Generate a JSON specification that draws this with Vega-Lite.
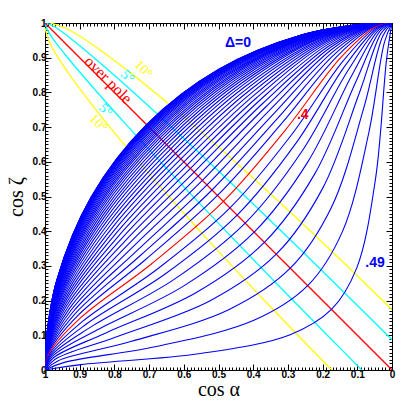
{
  "$schema": "https://vega.github.io/schema/vega-lite/v6.json",
  "width": 347,
  "height": 347,
  "autosize": {"type": "none"},
  "padding": {"left": 45, "top": 23, "right": 23, "bottom": 45},
  "background": "white",
  "config": {
    "view": {"stroke": null},
    "axis": {"grid": false, "domainColor": "black", "tickColor": "black", "domainWidth": 1, "tickWidth": 1, "labelColor": "black", "titleColor": "black"}
  },
  "datasets": {
    "curves": [
      {"d":0,"x":1,"y":0},{"d":0,"x":0.9962,"y":0.0872},{"d":0,"x":0.9659,"y":0.2588},{"d":0,"x":0.8660,"y":0.5000},{"d":0,"x":0.7071,"y":0.7071},{"d":0,"x":0.5000,"y":0.8660},{"d":0,"x":0.2588,"y":0.9659},{"d":0,"x":0.0872,"y":0.9962},{"d":0,"x":0,"y":1},
      {"d":0.01,"x":1,"y":0},{"d":0.01,"x":0.9962,"y":0.0871},{"d":0.01,"x":0.9659,"y":0.2588},{"d":0.01,"x":0.8660,"y":0.4999},{"d":0.01,"x":0.7070,"y":0.7070},{"d":0.01,"x":0.4999,"y":0.8660},{"d":0.01,"x":0.2588,"y":0.9659},{"d":0.01,"x":0.0871,"y":0.9962},{"d":0.01,"x":0,"y":1},
      {"d":0.02,"x":1,"y":0},{"d":0.02,"x":0.9962,"y":0.0871},{"d":0.02,"x":0.9659,"y":0.2586},{"d":0.02,"x":0.8658,"y":0.4996},{"d":0.02,"x":0.7068,"y":0.7068},{"d":0.02,"x":0.4996,"y":0.8658},{"d":0.02,"x":0.2586,"y":0.9659},{"d":0.02,"x":0.0871,"y":0.9962},{"d":0.02,"x":0,"y":1},
      {"d":0.03,"x":1,"y":0},{"d":0.03,"x":0.9962,"y":0.0870},{"d":0.03,"x":0.9658,"y":0.2583},{"d":0.03,"x":0.8655,"y":0.4992},{"d":0.03,"x":0.7063,"y":0.7063},{"d":0.03,"x":0.4992,"y":0.8655},{"d":0.03,"x":0.2583,"y":0.9658},{"d":0.03,"x":0.0870,"y":0.9962},{"d":0.03,"x":0,"y":1},
      {"d":0.04,"x":1,"y":0},{"d":0.04,"x":0.9962,"y":0.0868},{"d":0.04,"x":0.9657,"y":0.2579},{"d":0.04,"x":0.8652,"y":0.4985},{"d":0.04,"x":0.7057,"y":0.7057},{"d":0.04,"x":0.4985,"y":0.8652},{"d":0.04,"x":0.2579,"y":0.9657},{"d":0.04,"x":0.0868,"y":0.9962},{"d":0.04,"x":0,"y":1},
      {"d":0.05,"x":1,"y":0},{"d":0.05,"x":0.9961,"y":0.0866},{"d":0.05,"x":0.9655,"y":0.2573},{"d":0.05,"x":0.8647,"y":0.4977},{"d":0.05,"x":0.7049,"y":0.7049},{"d":0.05,"x":0.4977,"y":0.8647},{"d":0.05,"x":0.2573,"y":0.9655},{"d":0.05,"x":0.0866,"y":0.9961},{"d":0.05,"x":0,"y":1},
      {"d":0.06,"x":1,"y":0},{"d":0.06,"x":0.9961,"y":0.0864},{"d":0.06,"x":0.9653,"y":0.2567},{"d":0.06,"x":0.8641,"y":0.4967},{"d":0.06,"x":0.7039,"y":0.7039},{"d":0.06,"x":0.4967,"y":0.8641},{"d":0.06,"x":0.2567,"y":0.9653},{"d":0.06,"x":0.0864,"y":0.9961},{"d":0.06,"x":0,"y":1},
      {"d":0.07,"x":1,"y":0},{"d":0.07,"x":0.9961,"y":0.0861},{"d":0.07,"x":0.9651,"y":0.2559},{"d":0.07,"x":0.8634,"y":0.4954},{"d":0.07,"x":0.7028,"y":0.7028},{"d":0.07,"x":0.4954,"y":0.8634},{"d":0.07,"x":0.2559,"y":0.9651},{"d":0.07,"x":0.0861,"y":0.9961},{"d":0.07,"x":0,"y":1},
      {"d":0.08,"x":1,"y":0},{"d":0.08,"x":0.9961,"y":0.0858},{"d":0.08,"x":0.9649,"y":0.2550},{"d":0.08,"x":0.8625,"y":0.4940},{"d":0.08,"x":0.7014,"y":0.7014},{"d":0.08,"x":0.4940,"y":0.8625},{"d":0.08,"x":0.2550,"y":0.9649},{"d":0.08,"x":0.0858,"y":0.9961},{"d":0.08,"x":0,"y":1},
      {"d":0.09,"x":1,"y":0},{"d":0.09,"x":0.9960,"y":0.0854},{"d":0.09,"x":0.9646,"y":0.2540},{"d":0.09,"x":0.8616,"y":0.4924},{"d":0.09,"x":0.6999,"y":0.6999},{"d":0.09,"x":0.4924,"y":0.8616},{"d":0.09,"x":0.2540,"y":0.9646},{"d":0.09,"x":0.0854,"y":0.9960},{"d":0.09,"x":0,"y":1},
      {"d":0.1,"x":1,"y":0},{"d":0.1,"x":0.9960,"y":0.0850},{"d":0.1,"x":0.9643,"y":0.2528},{"d":0.1,"x":0.8605,"y":0.4906},{"d":0.1,"x":0.6982,"y":0.6982},{"d":0.1,"x":0.4906,"y":0.8605},{"d":0.1,"x":0.2528,"y":0.9643},{"d":0.1,"x":0.0850,"y":0.9960},{"d":0.1,"x":0,"y":1},
      {"d":0.11,"x":1,"y":0},{"d":0.11,"x":0.9960,"y":0.0846},{"d":0.11,"x":0.9639,"y":0.2516},{"d":0.11,"x":0.8593,"y":0.4886},{"d":0.11,"x":0.6963,"y":0.6963},{"d":0.11,"x":0.4886,"y":0.8593},{"d":0.11,"x":0.2516,"y":0.9639},{"d":0.11,"x":0.0846,"y":0.9960},{"d":0.11,"x":0,"y":1},
      {"d":0.12,"x":1,"y":0},{"d":0.12,"x":0.9959,"y":0.0841},{"d":0.12,"x":0.9635,"y":0.2502},{"d":0.12,"x":0.8580,"y":0.4864},{"d":0.12,"x":0.6941,"y":0.6941},{"d":0.12,"x":0.4864,"y":0.8580},{"d":0.12,"x":0.2502,"y":0.9635},{"d":0.12,"x":0.0841,"y":0.9959},{"d":0.12,"x":0,"y":1},
      {"d":0.13,"x":1,"y":0},{"d":0.13,"x":0.9959,"y":0.0835},{"d":0.13,"x":0.9630,"y":0.2486},{"d":0.13,"x":0.8565,"y":0.4840},{"d":0.13,"x":0.6918,"y":0.6918},{"d":0.13,"x":0.4840,"y":0.8565},{"d":0.13,"x":0.2486,"y":0.9630},{"d":0.13,"x":0.0835,"y":0.9959},{"d":0.13,"x":0,"y":1},
      {"d":0.14,"x":1,"y":0},{"d":0.14,"x":0.9958,"y":0.0829},{"d":0.14,"x":0.9625,"y":0.2470},{"d":0.14,"x":0.8549,"y":0.4814},{"d":0.14,"x":0.6892,"y":0.6892},{"d":0.14,"x":0.4814,"y":0.8549},{"d":0.14,"x":0.2470,"y":0.9625},{"d":0.14,"x":0.0829,"y":0.9958},{"d":0.14,"x":0,"y":1},
      {"d":0.15,"x":1,"y":0},{"d":0.15,"x":0.9957,"y":0.0823},{"d":0.15,"x":0.9620,"y":0.2452},{"d":0.15,"x":0.8531,"y":0.4785},{"d":0.15,"x":0.6864,"y":0.6864},{"d":0.15,"x":0.4785,"y":0.8531},{"d":0.15,"x":0.2452,"y":0.9620},{"d":0.15,"x":0.0823,"y":0.9957},{"d":0.15,"x":0,"y":1},
      {"d":0.16,"x":1,"y":0},{"d":0.16,"x":0.9957,"y":0.0816},{"d":0.16,"x":0.9614,"y":0.2433},{"d":0.16,"x":0.8511,"y":0.4755},{"d":0.16,"x":0.6834,"y":0.6834},{"d":0.16,"x":0.4755,"y":0.8511},{"d":0.16,"x":0.2433,"y":0.9614},{"d":0.16,"x":0.0816,"y":0.9957},{"d":0.16,"x":0,"y":1},
      {"d":0.17,"x":1,"y":0},{"d":0.17,"x":0.9956,"y":0.0809},{"d":0.17,"x":0.9607,"y":0.2413},{"d":0.17,"x":0.8490,"y":0.4722},{"d":0.17,"x":0.6801,"y":0.6801},{"d":0.17,"x":0.4722,"y":0.8490},{"d":0.17,"x":0.2413,"y":0.9607},{"d":0.17,"x":0.0809,"y":0.9956},{"d":0.17,"x":0,"y":1},
      {"d":0.18,"x":1,"y":0},{"d":0.18,"x":0.9955,"y":0.0801},{"d":0.18,"x":0.9600,"y":0.2391},{"d":0.18,"x":0.8467,"y":0.4686},{"d":0.18,"x":0.6766,"y":0.6766},{"d":0.18,"x":0.4686,"y":0.8467},{"d":0.18,"x":0.2391,"y":0.9600},{"d":0.18,"x":0.0801,"y":0.9955},{"d":0.18,"x":0,"y":1},
      {"d":0.19,"x":1,"y":0},{"d":0.19,"x":0.9954,"y":0.0793},{"d":0.19,"x":0.9592,"y":0.2368},{"d":0.19,"x":0.8442,"y":0.4649},{"d":0.19,"x":0.6728,"y":0.6728},{"d":0.19,"x":0.4649,"y":0.8442},{"d":0.19,"x":0.2368,"y":0.9592},{"d":0.19,"x":0.0793,"y":0.9954},{"d":0.19,"x":0,"y":1},
      {"d":0.2,"x":1,"y":0},{"d":0.2,"x":0.9953,"y":0.0784},{"d":0.2,"x":0.9584,"y":0.2343},{"d":0.2,"x":0.8415,"y":0.4609},{"d":0.2,"x":0.6687,"y":0.6687},{"d":0.2,"x":0.4609,"y":0.8415},{"d":0.2,"x":0.2343,"y":0.9584},{"d":0.2,"x":0.0784,"y":0.9953},{"d":0.2,"x":0,"y":1},
      {"d":0.21,"x":1,"y":0},{"d":0.21,"x":0.9952,"y":0.0775},{"d":0.21,"x":0.9574,"y":0.2317},{"d":0.21,"x":0.8386,"y":0.4566},{"d":0.21,"x":0.6644,"y":0.6644},{"d":0.21,"x":0.4566,"y":0.8386},{"d":0.21,"x":0.2317,"y":0.9574},{"d":0.21,"x":0.0775,"y":0.9952},{"d":0.21,"x":0,"y":1},
      {"d":0.22,"x":1,"y":0},{"d":0.22,"x":0.9951,"y":0.0766},{"d":0.22,"x":0.9564,"y":0.2290},{"d":0.22,"x":0.8355,"y":0.4521},{"d":0.22,"x":0.6597,"y":0.6597},{"d":0.22,"x":0.4521,"y":0.8355},{"d":0.22,"x":0.2290,"y":0.9564},{"d":0.22,"x":0.0766,"y":0.9951},{"d":0.22,"x":0,"y":1},
      {"d":0.23,"x":1,"y":0},{"d":0.23,"x":0.9949,"y":0.0755},{"d":0.23,"x":0.9553,"y":0.2261},{"d":0.23,"x":0.8321,"y":0.4472},{"d":0.23,"x":0.6547,"y":0.6547},{"d":0.23,"x":0.4472,"y":0.8321},{"d":0.23,"x":0.2261,"y":0.9553},{"d":0.23,"x":0.0755,"y":0.9949},{"d":0.23,"x":0,"y":1},
      {"d":0.24,"x":1,"y":0},{"d":0.24,"x":0.9948,"y":0.0745},{"d":0.24,"x":0.9541,"y":0.2230},{"d":0.24,"x":0.8284,"y":0.4421},{"d":0.24,"x":0.6493,"y":0.6493},{"d":0.24,"x":0.4421,"y":0.8284},{"d":0.24,"x":0.2230,"y":0.9541},{"d":0.24,"x":0.0745,"y":0.9948},{"d":0.24,"x":0,"y":1},
      {"d":0.25,"x":1,"y":0},{"d":0.25,"x":0.9946,"y":0.0734},{"d":0.25,"x":0.9528,"y":0.2198},{"d":0.25,"x":0.8244,"y":0.4367},{"d":0.25,"x":0.6436,"y":0.6436},{"d":0.25,"x":0.4367,"y":0.8244},{"d":0.25,"x":0.2198,"y":0.9528},{"d":0.25,"x":0.0734,"y":0.9946},{"d":0.25,"x":0,"y":1},
      {"d":0.26,"x":1,"y":0},{"d":0.26,"x":0.9945,"y":0.0722},{"d":0.26,"x":0.9514,"y":0.2164},{"d":0.26,"x":0.8201,"y":0.4310},{"d":0.26,"x":0.6375,"y":0.6375},{"d":0.26,"x":0.4310,"y":0.8201},{"d":0.26,"x":0.2164,"y":0.9514},{"d":0.26,"x":0.0722,"y":0.9945},{"d":0.26,"x":0,"y":1},
      {"d":0.27,"x":1,"y":0},{"d":0.27,"x":0.9943,"y":0.0710},{"d":0.27,"x":0.9498,"y":0.2129},{"d":0.27,"x":0.8154,"y":0.4250},{"d":0.27,"x":0.6309,"y":0.6309},{"d":0.27,"x":0.4250,"y":0.8154},{"d":0.27,"x":0.2129,"y":0.9498},{"d":0.27,"x":0.0710,"y":0.9943},{"d":0.27,"x":0,"y":1},
      {"d":0.28,"x":1,"y":0},{"d":0.28,"x":0.9941,"y":0.0697},{"d":0.28,"x":0.9480,"y":0.2092},{"d":0.28,"x":0.8103,"y":0.4186},{"d":0.28,"x":0.6239,"y":0.6239},{"d":0.28,"x":0.4186,"y":0.8103},{"d":0.28,"x":0.2092,"y":0.9480},{"d":0.28,"x":0.0697,"y":0.9941},{"d":0.28,"x":0,"y":1},
      {"d":0.29,"x":1,"y":0},{"d":0.29,"x":0.9938,"y":0.0683},{"d":0.29,"x":0.9461,"y":0.2053},{"d":0.29,"x":0.8048,"y":0.4119},{"d":0.29,"x":0.6164,"y":0.6164},{"d":0.29,"x":0.4119,"y":0.8048},{"d":0.29,"x":0.2053,"y":0.9461},{"d":0.29,"x":0.0683,"y":0.9938},{"d":0.29,"x":0,"y":1},
      {"d":0.3,"x":1,"y":0},{"d":0.3,"x":0.9936,"y":0.0669},{"d":0.3,"x":0.9440,"y":0.2012},{"d":0.3,"x":0.7988,"y":0.4048},{"d":0.3,"x":0.6084,"y":0.6084},{"d":0.3,"x":0.4048,"y":0.7988},{"d":0.3,"x":0.2012,"y":0.9440},{"d":0.3,"x":0.0669,"y":0.9936},{"d":0.3,"x":0,"y":1},
      {"d":0.31,"x":1,"y":0},{"d":0.31,"x":0.9933,"y":0.0654},{"d":0.31,"x":0.9417,"y":0.1970},{"d":0.31,"x":0.7923,"y":0.3972},{"d":0.31,"x":0.5999,"y":0.5999},{"d":0.31,"x":0.3972,"y":0.7923},{"d":0.31,"x":0.1970,"y":0.9417},{"d":0.31,"x":0.0654,"y":0.9933},{"d":0.31,"x":0,"y":1},
      {"d":0.32,"x":1,"y":0},{"d":0.32,"x":0.9929,"y":0.0639},{"d":0.32,"x":0.9391,"y":0.1925},{"d":0.32,"x":0.7852,"y":0.3893},{"d":0.32,"x":0.5907,"y":0.5907},{"d":0.32,"x":0.3893,"y":0.7852},{"d":0.32,"x":0.1925,"y":0.9391},{"d":0.32,"x":0.0639,"y":0.9929},{"d":0.32,"x":0,"y":1},
      {"d":0.33,"x":1,"y":0},{"d":0.33,"x":0.9926,"y":0.0623},{"d":0.33,"x":0.9362,"y":0.1878},{"d":0.33,"x":0.7774,"y":0.3809},{"d":0.33,"x":0.5808,"y":0.5808},{"d":0.33,"x":0.3809,"y":0.7774},{"d":0.33,"x":0.1878,"y":0.9362},{"d":0.33,"x":0.0623,"y":0.9926},{"d":0.33,"x":0,"y":1},
      {"d":0.34,"x":1,"y":0},{"d":0.34,"x":0.9922,"y":0.0606},{"d":0.34,"x":0.9329,"y":0.1828},{"d":0.34,"x":0.7688,"y":0.3720},{"d":0.34,"x":0.5702,"y":0.5702},{"d":0.34,"x":0.3720,"y":0.7688},{"d":0.34,"x":0.1828,"y":0.9329},{"d":0.34,"x":0.0606,"y":0.9922},{"d":0.34,"x":0,"y":1},
      {"d":0.35,"x":1,"y":0},{"d":0.35,"x":0.9917,"y":0.0588},{"d":0.35,"x":0.9292,"y":0.1777},{"d":0.35,"x":0.7594,"y":0.3625},{"d":0.35,"x":0.5588,"y":0.5588},{"d":0.35,"x":0.3625,"y":0.7594},{"d":0.35,"x":0.1777,"y":0.9292},{"d":0.35,"x":0.0588,"y":0.9917},{"d":0.35,"x":0,"y":1},
      {"d":0.36,"x":1,"y":0},{"d":0.36,"x":0.9911,"y":0.0570},{"d":0.36,"x":0.9250,"y":0.1722},{"d":0.36,"x":0.7489,"y":0.3525},{"d":0.36,"x":0.5465,"y":0.5465},{"d":0.36,"x":0.3525,"y":0.7489},{"d":0.36,"x":0.1722,"y":0.9250},{"d":0.36,"x":0.0570,"y":0.9911},{"d":0.36,"x":0,"y":1},
      {"d":0.37,"x":1,"y":0},{"d":0.37,"x":0.9905,"y":0.0550},{"d":0.37,"x":0.9203,"y":0.1665},{"d":0.37,"x":0.7373,"y":0.3419},{"d":0.37,"x":0.5332,"y":0.5332},{"d":0.37,"x":0.3419,"y":0.7373},{"d":0.37,"x":0.1665,"y":0.9203},{"d":0.37,"x":0.0550,"y":0.9905},{"d":0.37,"x":0,"y":1},
      {"d":0.38,"x":1,"y":0},{"d":0.38,"x":0.9898,"y":0.0530},{"d":0.38,"x":0.9148,"y":0.1605},{"d":0.38,"x":0.7244,"y":0.3306},{"d":0.38,"x":0.5187,"y":0.5187},{"d":0.38,"x":0.3306,"y":0.7244},{"d":0.38,"x":0.1605,"y":0.9148},{"d":0.38,"x":0.0530,"y":0.9898},{"d":0.38,"x":0,"y":1},
      {"d":0.39,"x":1,"y":0},{"d":0.39,"x":0.9889,"y":0.0508},{"d":0.39,"x":0.9084,"y":0.1541},{"d":0.39,"x":0.7099,"y":0.3185},{"d":0.39,"x":0.5030,"y":0.5030},{"d":0.39,"x":0.3185,"y":0.7099},{"d":0.39,"x":0.1541,"y":0.9084},{"d":0.39,"x":0.0508,"y":0.9889},{"d":0.39,"x":0,"y":1},
      {"d":0.4,"x":1,"y":0},{"d":0.4,"x":0.9878,"y":0.0486},{"d":0.4,"x":0.9008,"y":0.1473},{"d":0.4,"x":0.6936,"y":0.3056},{"d":0.4,"x":0.4859,"y":0.4859},{"d":0.4,"x":0.3056,"y":0.6936},{"d":0.4,"x":0.1473,"y":0.9008},{"d":0.4,"x":0.0486,"y":0.9878},{"d":0.4,"x":0,"y":1},
      {"d":0.41,"x":1,"y":0},{"d":0.41,"x":0.9866,"y":0.0462},{"d":0.41,"x":0.8918,"y":0.1401},{"d":0.41,"x":0.6750,"y":0.2917},{"d":0.41,"x":0.4670,"y":0.4670},{"d":0.41,"x":0.2917,"y":0.6750},{"d":0.41,"x":0.1401,"y":0.8918},{"d":0.41,"x":0.0462,"y":0.9866},{"d":0.41,"x":0,"y":1},
      {"d":0.42,"x":1,"y":0},{"d":0.42,"x":0.9850,"y":0.0436},{"d":0.42,"x":0.8809,"y":0.1324},{"d":0.42,"x":0.6537,"y":0.2767},{"d":0.42,"x":0.4463,"y":0.4463},{"d":0.42,"x":0.2767,"y":0.6537},{"d":0.42,"x":0.1324,"y":0.8809},{"d":0.42,"x":0.0436,"y":0.9850},{"d":0.42,"x":0,"y":1},
      {"d":0.43,"x":1,"y":0},{"d":0.43,"x":0.9829,"y":0.0408},{"d":0.43,"x":0.8674,"y":0.1242},{"d":0.43,"x":0.6289,"y":0.2604},{"d":0.43,"x":0.4232,"y":0.4232},{"d":0.43,"x":0.2604,"y":0.6289},{"d":0.43,"x":0.1242,"y":0.8674},{"d":0.43,"x":0.0408,"y":0.9829},{"d":0.43,"x":0,"y":1},
      {"d":0.44,"x":1,"y":0},{"d":0.44,"x":0.9802,"y":0.0378},{"d":0.44,"x":0.8503,"y":0.1152},{"d":0.44,"x":0.5999,"y":0.2425},{"d":0.44,"x":0.3973,"y":0.3973},{"d":0.44,"x":0.2425,"y":0.5999},{"d":0.44,"x":0.1152,"y":0.8503},{"d":0.44,"x":0.0378,"y":0.9802},{"d":0.44,"x":0,"y":1},
      {"d":0.45,"x":1,"y":0},{"d":0.45,"x":0.9764,"y":0.0346},{"d":0.45,"x":0.8279,"y":0.1054},{"d":0.45,"x":0.5652,"y":0.2226},{"d":0.45,"x":0.3678,"y":0.3678},{"d":0.45,"x":0.2226,"y":0.5652},{"d":0.45,"x":0.1054,"y":0.8279},{"d":0.45,"x":0.0346,"y":0.9764},{"d":0.45,"x":0,"y":1},
      {"d":0.46,"x":1,"y":0},{"d":0.46,"x":0.9708,"y":0.0310},{"d":0.46,"x":0.7974,"y":0.0944},{"d":0.46,"x":0.5227,"y":0.2003},{"d":0.46,"x":0.3337,"y":0.3337},{"d":0.46,"x":0.2003,"y":0.5227},{"d":0.46,"x":0.0944,"y":0.7974},{"d":0.46,"x":0.0310,"y":0.9708},{"d":0.46,"x":0,"y":1},
      {"d":0.47,"x":1,"y":0},{"d":0.47,"x":0.9617,"y":0.0268},{"d":0.47,"x":0.7532,"y":0.0819},{"d":0.47,"x":0.4692,"y":0.1744},{"d":0.47,"x":0.2933,"y":0.2933},{"d":0.47,"x":0.1744,"y":0.4692},{"d":0.47,"x":0.0819,"y":0.7532},{"d":0.47,"x":0.0268,"y":0.9617},{"d":0.47,"x":0,"y":1},
      {"d":0.48,"x":1,"y":0},{"d":0.48,"x":0.9441,"y":0.0219},{"d":0.48,"x":0.6830,"y":0.0670},{"d":0.48,"x":0.3981,"y":0.1432},{"d":0.48,"x":0.2431,"y":0.2431},{"d":0.48,"x":0.1432,"y":0.3981},{"d":0.48,"x":0.0670,"y":0.6830},{"d":0.48,"x":0.0219,"y":0.9441},{"d":0.48,"x":0,"y":1},
      {"d":0.49,"x":1,"y":0},{"d":0.49,"x":0.8967,"y":0.0155},{"d":0.49,"x":0.5517,"y":0.0474},{"d":0.49,"x":0.2935,"y":0.1018},{"d":0.49,"x":0.1745,"y":0.1745},{"d":0.49,"x":0.1018,"y":0.2935},{"d":0.49,"x":0.0474,"y":0.5517},{"d":0.49,"x":0.0155,"y":0.8967},{"d":0.49,"x":0,"y":1}
    ],
    "lines": [
      {"g":"p","k":"over pole","x":1,"y":1},{"g":"p","k":"over pole","x":0,"y":0},
      {"g":"c1","k":"5°","x":1,"y":0.9962},{"g":"c1","k":"5°","x":0.9848,"y":0.9659},{"g":"c1","k":"5°","x":0.9397,"y":0.9063},{"g":"c1","k":"5°","x":0.8660,"y":0.8192},{"g":"c1","k":"5°","x":0.7660,"y":0.7071},{"g":"c1","k":"5°","x":0.6428,"y":0.5736},{"g":"c1","k":"5°","x":0.5,"y":0.4226},{"g":"c1","k":"5°","x":0.3420,"y":0.2588},{"g":"c1","k":"5°","x":0.1736,"y":0.0872},{"g":"c1","k":"5°","x":0.0872,"y":0},
      {"g":"c2","k":"5°","x":0.9962,"y":1},{"g":"c2","k":"5°","x":0.9659,"y":0.9848},{"g":"c2","k":"5°","x":0.9063,"y":0.9397},{"g":"c2","k":"5°","x":0.8192,"y":0.8660},{"g":"c2","k":"5°","x":0.7071,"y":0.7660},{"g":"c2","k":"5°","x":0.5736,"y":0.6428},{"g":"c2","k":"5°","x":0.4226,"y":0.5},{"g":"c2","k":"5°","x":0.2588,"y":0.3420},{"g":"c2","k":"5°","x":0.0872,"y":0.1736},{"g":"c2","k":"5°","x":0,"y":0.0872},
      {"g":"y1","k":"10°","x":1,"y":0.9848},{"g":"y1","k":"10°","x":0.9848,"y":0.9397},{"g":"y1","k":"10°","x":0.9397,"y":0.8660},{"g":"y1","k":"10°","x":0.8660,"y":0.7660},{"g":"y1","k":"10°","x":0.7660,"y":0.6428},{"g":"y1","k":"10°","x":0.6428,"y":0.5},{"g":"y1","k":"10°","x":0.5,"y":0.3420},{"g":"y1","k":"10°","x":0.3420,"y":0.1736},{"g":"y1","k":"10°","x":0.1736,"y":0},
      {"g":"y2","k":"10°","x":0.9848,"y":1},{"g":"y2","k":"10°","x":0.9397,"y":0.9848},{"g":"y2","k":"10°","x":0.8660,"y":0.9397},{"g":"y2","k":"10°","x":0.7660,"y":0.8660},{"g":"y2","k":"10°","x":0.6428,"y":0.7660},{"g":"y2","k":"10°","x":0.5,"y":0.6428},{"g":"y2","k":"10°","x":0.3420,"y":0.5},{"g":"y2","k":"10°","x":0.1736,"y":0.3420},{"g":"y2","k":"10°","x":0,"y":0.1736}
    ],
    "slanted": [
      {"k":"over pole","t":"over pole","x":0.818,"y":0.836},
      {"k":"5°","t":"5°","x":0.763,"y":0.845},
      {"k":"5°","t":"5°","x":0.826,"y":0.748},
      {"k":"10°","t":"10°","x":0.717,"y":0.866},
      {"k":"10°","t":"10°","x":0.847,"y":0.711}
    ],
    "bluelabels": [
      {"t":"Δ=0","x":0.444,"y":0.942},
      {"t":".49","x":0.049,"y":0.307}
    ],
    "redlabels": [
      {"t":".4","x":0.257,"y":0.734}
    ]
  },
  "layer": [
    {
      "data": {"name": "lines"},
      "mark": {"type": "line", "interpolate": "catmull-rom", "strokeWidth": 1.3, "clip": true},
      "encoding": {
        "x": {"field": "x", "type": "quantitative", "scale": {"domain": [0, 1], "reverse": true, "nice": false, "zero": false},
          "axis": {"orient": "bottom", "tickCount": 100, "tickSize": -3, "labels": false, "domain": false, "title": null}},
        "y": {"field": "y", "type": "quantitative", "scale": {"domain": [0, 1], "nice": false, "zero": false},
          "axis": {"orient": "left", "tickCount": 100, "tickSize": -3, "labels": false, "domain": false, "title": null}},
        "detail": {"field": "g", "type": "nominal"},
        "order": {"value": null},
        "color": {"field": "k", "type": "nominal", "scale": {"domain": ["over pole", "5°", "10°"], "range": ["#ff0000", "#00ffff", "#ffff00"]}, "legend": null}
      }
    },
    {
      "data": {"name": "curves"},
      "mark": {"type": "line", "interpolate": "catmull-rom", "strokeWidth": 1.1, "clip": true},
      "encoding": {
        "x": {"field": "x", "type": "quantitative", "scale": {"domain": [0, 1], "reverse": true, "nice": false, "zero": false},
          "axis": {"orient": "bottom", "values": [0, 0.1, 0.2, 0.3, 0.4, 0.5, 0.6, 0.7, 0.8, 0.9, 1], "format": "~g", "tickSize": -6, "labelFlush": false, "labelFont": "Liberation Sans", "labelFontWeight": "bold", "labelFontSize": 10, "labelPadding": 5, "labelOverlap": false,
            "title": "cos α", "titleFont": "Liberation Serif", "titleFontWeight": "normal", "titleFontSize": 20, "titlePadding": 0}},
        "y": {"field": "y", "type": "quantitative", "scale": {"domain": [0, 1], "nice": false, "zero": false},
          "axis": {"orient": "left", "values": [0, 0.1, 0.2, 0.3, 0.4, 0.5, 0.6, 0.7, 0.8, 0.9, 1], "format": "~g", "tickSize": -6, "labelFlush": false, "labelFont": "Liberation Sans", "labelFontWeight": "bold", "labelFontSize": 10, "labelPadding": 5, "labelOverlap": false,
            "title": "cos ζ", "titleFont": "Liberation Serif", "titleFontWeight": "normal", "titleFontSize": 20, "titlePadding": 6}},
        "detail": {"field": "d", "type": "nominal"},
        "order": {"value": null},
        "color": {"condition": {"test": "datum.d == 0.4", "value": "#ff0000"}, "value": "#0000ff"}
      }
    },
    {
      "data": {"name": "slanted"},
      "mark": {"type": "text", "angle": 45, "font": "Liberation Serif", "align": "center", "baseline": "middle"},
      "encoding": {
        "x": {"field": "x", "type": "quantitative", "axis": {"orient": "top", "values": [0, 0.1, 0.2, 0.3, 0.4, 0.5, 0.6, 0.7, 0.8, 0.9, 1], "tickSize": -6, "labels": false, "title": null}},
        "y": {"field": "y", "type": "quantitative", "axis": {"orient": "right", "values": [0, 0.1, 0.2, 0.3, 0.4, 0.5, 0.6, 0.7, 0.8, 0.9, 1], "tickSize": -6, "labels": false, "title": null}},
        "text": {"field": "t"},
        "size": {"condition": {"test": "datum.k == 'over pole'", "value": 16}, "value": 14},
        "color": {"field": "k", "type": "nominal", "legend": null}
      }
    },
    {
      "data": {"name": "bluelabels"},
      "mark": {"type": "text", "font": "Liberation Sans", "fontWeight": "bold", "fontSize": 14, "color": "#0000ff", "align": "center", "baseline": "middle"},
      "encoding": {
        "x": {"field": "x", "type": "quantitative", "axis": {"orient": "top", "tickCount": 100, "tickSize": -3, "labels": false, "domain": false, "title": null}},
        "y": {"field": "y", "type": "quantitative", "axis": {"orient": "right", "tickCount": 100, "tickSize": -3, "labels": false, "domain": false, "title": null}},
        "text": {"field": "t"}
      }
    },
    {
      "data": {"name": "redlabels"},
      "mark": {"type": "text", "font": "Liberation Sans", "fontWeight": "bold", "fontSize": 14, "color": "#ff0000", "align": "center", "baseline": "middle"},
      "encoding": {
        "x": {"field": "x", "type": "quantitative", "axis": null},
        "y": {"field": "y", "type": "quantitative", "axis": null},
        "text": {"field": "t"}
      }
    }
  ],
  "resolve": {"axis": {"x": "independent", "y": "independent"}}
}
